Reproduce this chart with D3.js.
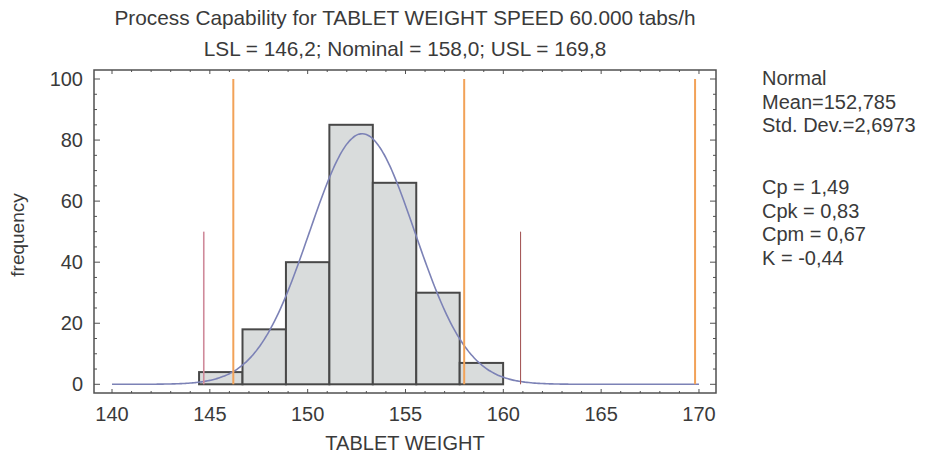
<!DOCTYPE html>
<html>
<head>
<meta charset="utf-8">
<script src="https://cdn.jsdelivr.net/npm/d3@7"></script>
<style>
    body { margin: 0; background: #fff; }
    text { font-family: "Liberation Sans", Arial, sans-serif; fill: #3a3a3a; }
</style>
</head>
<body>
<script>
// histogram bins (class limits) and counts
var binEdges = [144.45, 146.67, 148.89, 151.11, 153.33, 155.55, 157.77, 159.99];
var counts = [4, 18, 40, 85, 66, 30, 7];

// fitted normal and spec limits
var mean = 152.785;
var stdDev = 2.6973;
var specLines = [146.2, 158.0, 169.8];           // LSL, nominal, USL
var sigmaLines = [144.69, 160.88];               // mean -/+ 3 sigma

var xTicks = [140, 145, 150, 155, 160, 165, 170];
var yTicks = [0, 20, 40, 60, 80, 100];

var titleLines = ["Process Capability for TABLET WEIGHT SPEED 60.000 tabs/h",
                  "LSL = 146,2; Nominal = 158,0; USL = 169,8"];
var legendTop = ["Normal", "Mean=152,785", "Std. Dev.=2,6973"];
var legendBottom = ["Cp = 1,49", "Cpk = 0,83", "Cpm = 0,67", "K = -0,44"];

function init() {

    var W = 931, H = 455;
    var left = 94, right = 716, top = 70, bottom = 393;

    var svg = d3.select("body")
        .append("svg")
        .attr("width", W)
        .attr("height", H);

    var xScale = d3.scaleLinear()
        .domain([139.08, 170.87])
        .range([left, right]);

    var yScale = d3.scaleLinear()
        .domain([-2.85, 102.95])
        .range([bottom, top]);

    // bars
    svg.selectAll("rect.bar")
        .data(counts)
        .enter()
        .append("rect")
        .attr("class", "bar")
        .attr("x", function(d, i) { return xScale(binEdges[i]); })
        .attr("y", function(d) { return yScale(d); })
        .attr("width", function(d, i) { return xScale(binEdges[i + 1]) - xScale(binEdges[i]); })
        .attr("height", function(d) { return yScale(0) - yScale(d); })
        .attr("fill", "#d9dcdc")
        .attr("stroke", "#484848")
        .attr("stroke-width", 2);

    // fitted normal curve scaled to counts
    var n = d3.sum(counts);
    var bw = binEdges[1] - binEdges[0];
    var pts = d3.range(140, 170.001, 0.1).map(function(x) {
        var z = (x - mean) / stdDev;
        return [x, n * bw * Math.exp(-0.5 * z * z) / (stdDev * Math.sqrt(2 * Math.PI))];
    });
    var line = d3.line()
        .x(function(d) { return xScale(d[0]); })
        .y(function(d) { return yScale(d[1]); })
        .curve(d3.curveBasis);
    svg.append("path")
        .datum(pts)
        .attr("d", line)
        .attr("fill", "none")
        .attr("stroke", "#7c82b6")
        .attr("stroke-width", 1.6);

    // spec limits
    svg.selectAll("line.spec")
        .data(specLines)
        .enter()
        .append("line")
        .attr("class", "spec")
        .attr("x1", function(d) { return xScale(d); })
        .attr("x2", function(d) { return xScale(d); })
        .attr("y1", yScale(0))
        .attr("y2", yScale(100))
        .attr("stroke", "#f2a258")
        .attr("stroke-width", 2);

    // 3 sigma marks
    svg.selectAll("line.sig")
        .data(sigmaLines)
        .enter()
        .append("line")
        .attr("class", "sig")
        .attr("x1", function(d) { return xScale(d); })
        .attr("x2", function(d) { return xScale(d); })
        .attr("y1", yScale(0))
        .attr("y2", yScale(50))
        .attr("stroke", function(d, i) { return i == 0 ? "#cf8a9a" : "#a65a5a"; })
        .attr("stroke-width", function(d, i) { return i == 0 ? 1.6 : 1.1; });

    // frame
    svg.append("rect")
        .attr("x", left)
        .attr("y", top)
        .attr("width", right - left)
        .attr("height", bottom - top)
        .attr("fill", "none")
        .attr("stroke", "#505050")
        .attr("stroke-width", 1.5);

    // inward ticks on all four sides
    var frame = svg.append("g").attr("stroke", "#505050").attr("stroke-width", 1);
    var yMinor = d3.range(0, 101, 5);
    var xMinor = d3.range(140, 171, 1);
    yMinor.forEach(function(v) {
        var len = v % 20 == 0 ? 6 : 3;
        frame.append("line").attr("x1", left).attr("x2", left + len)
            .attr("y1", yScale(v)).attr("y2", yScale(v));
        frame.append("line").attr("x1", right).attr("x2", right - len)
            .attr("y1", yScale(v)).attr("y2", yScale(v));
    });
    xMinor.forEach(function(v) {
        var len = v % 5 == 0 ? 4 : 2;
        frame.append("line").attr("y1", top).attr("y2", top + len)
            .attr("x1", xScale(v)).attr("x2", xScale(v));
        frame.append("line").attr("y1", bottom).attr("y2", bottom - len)
            .attr("x1", xScale(v)).attr("x2", xScale(v));
    });

    // tick labels
    svg.selectAll("text.xt")
        .data(xTicks)
        .enter()
        .append("text")
        .attr("class", "xt")
        .attr("x", function(d) { return xScale(d); })
        .attr("y", 421)
        .attr("text-anchor", "middle")
        .style("font-size", "20px")
        .text(function(d) { return d; });

    svg.selectAll("text.yt")
        .data(yTicks)
        .enter()
        .append("text")
        .attr("class", "yt")
        .attr("x", 83)
        .attr("y", function(d) { return yScale(d) + 7; })
        .attr("text-anchor", "end")
        .style("font-size", "20px")
        .text(function(d) { return d; });

    // axis titles
    svg.append("text")
        .attr("x", (left + right) / 2)
        .attr("y", 450)
        .attr("text-anchor", "middle")
        .style("font-size", "20px")
        .text("TABLET WEIGHT");

    svg.append("text")
        .attr("transform", "translate(24,235) rotate(-90)")
        .attr("text-anchor", "middle")
        .style("font-size", "19px")
        .text("frequency");

    // chart titles
    svg.selectAll("text.title")
        .data(titleLines)
        .enter()
        .append("text")
        .attr("class", "title")
        .attr("x", (left + right) / 2)
        .attr("y", function(d, i) { return 25 + i * 31; })
        .attr("text-anchor", "middle")
        .style("font-size", "20.8px")
        .text(function(d) { return d; });

    // stats panel
    svg.selectAll("text.lt")
        .data(legendTop)
        .enter()
        .append("text")
        .attr("class", "lt")
        .attr("x", 762)
        .attr("y", function(d, i) { return 85 + i * 23.5; })
        .style("font-size", "20px")
        .text(function(d) { return d; });

    svg.selectAll("text.lb")
        .data(legendBottom)
        .enter()
        .append("text")
        .attr("class", "lb")
        .attr("x", 762)
        .attr("y", function(d, i) { return 194 + i * 23.5; })
        .style("font-size", "20px")
        .text(function(d) { return d; });
}

window.onload = init;
</script>
</body>
</html>
